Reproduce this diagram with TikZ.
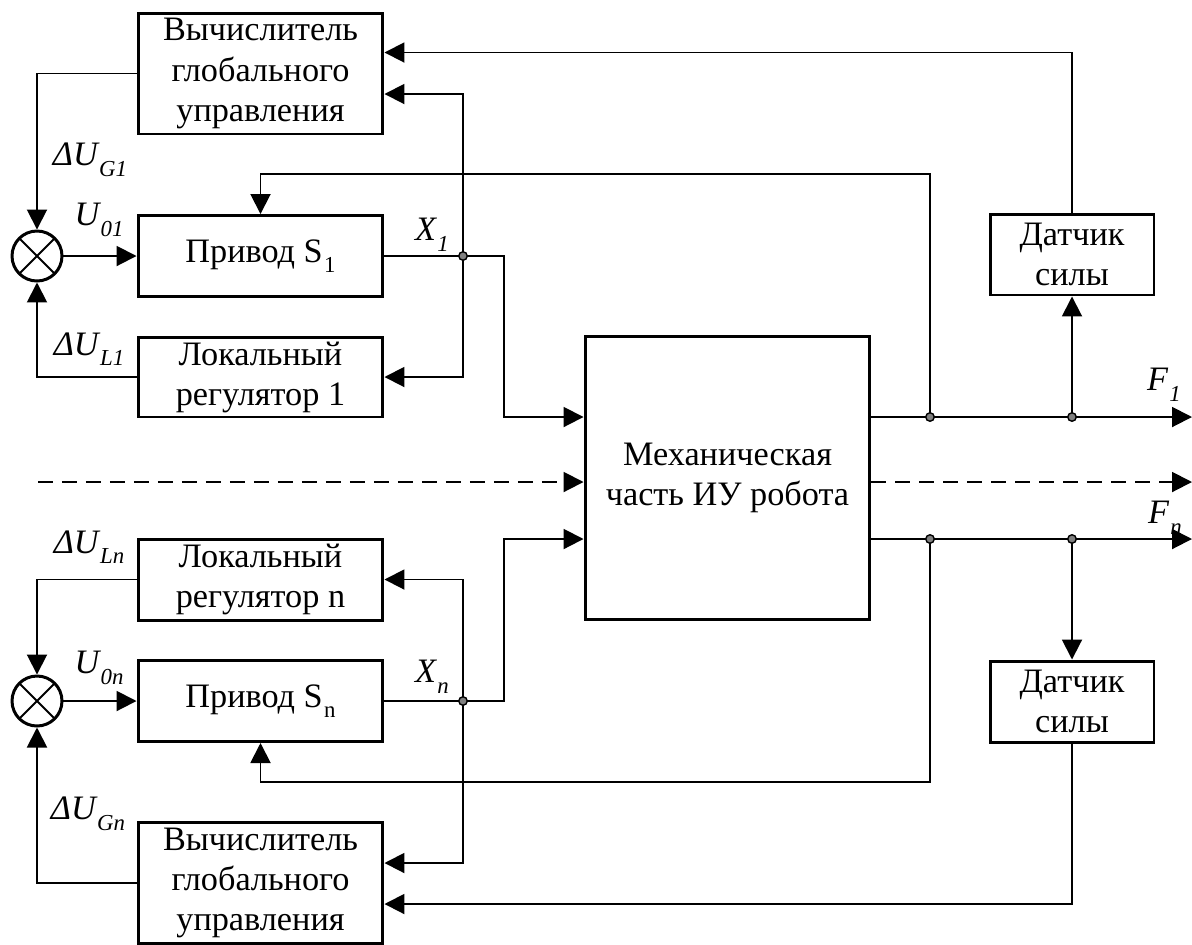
\documentclass[tikz,border=0pt]{standalone}
\usepackage{fontspec}
\setmainfont{Liberation Serif}
\usetikzlibrary{arrows.meta,positioning,calc}
\newcommand{\idx}[2]{#1\kern0.8pt\raisebox{-6pt}{\fontsize{13}{13}\selectfont #2}}

\begin{document}
\begin{tikzpicture}[
    x=0.02cm, y=-0.02cm,
    font=\fontsize{19.5}{22.8}\selectfont,
    block/.style={rectangle, draw, line width=1.7pt, align=center, inner sep=0pt, minimum width=4.9cm},
    calcbox/.style={block, minimum height=2.42cm},
    drivebox/.style={block, minimum height=1.62cm},
    sensbox/.style={block, minimum width=3.28cm, minimum height=1.62cm},
    summer/.style={circle, draw, line width=1.7pt, minimum size=1cm, inner sep=0pt, path picture={\draw[line width=1.1pt] (path picture bounding box.south west) -- (path picture bounding box.north east) (path picture bounding box.north west) -- (path picture bounding box.south east);}},
    conn/.style={line width=1.1pt},
    signal/.style={conn, -{Triangle[length=4mm, width=4mm]}},
    dashsignal/.style={signal, dash pattern=on 0.3cm off 0.18cm},
    junction/.style={circle, draw, fill=gray, line width=0.8pt, inner sep=0pt, minimum size=0.17cm},
    lbl/.style={inner sep=0pt, font=\fontsize{19.5}{22.8}\selectfont\itshape}
]
\useasboundingbox (0,0) rectangle (1192,944);

% Channel 1
\node[calcbox] (calc1) at (260.5,73.5) {Вычислитель\\глобального\\управления};
\node[summer] (sum1) at (37,256) {};
\node[drivebox] (drive1) at (260.5,256) {Привод \idx{S}{1}};
\node[drivebox, minimum height=1.6cm] (locreg1) at (260.5,377) {Локальный\\регулятор 1};

% Channel n
\node[drivebox] (locregn) at (260.5,579.5) {Локальный\\регулятор n};
\node[summer] (sumn) at (37,701) {};
\node[drivebox] (driven) at (260.5,701) {Привод \idx{S}{n}};
\node[calcbox] (calcn) at (260.5,883) {Вычислитель\\глобального\\управления};

% Robot and sensors
\node[block, minimum width=5.7cm, minimum height=5.68cm] (mech) at (727.5,478) {Механическая\\часть ИУ робота};
\node[sensbox] (sens1) at (1072,254.5) {Датчик\\силы};
\node[sensbox] (sensn) at (1072,701.5) {Датчик\\силы};

% Branch points
\coordinate (j1) at (463,256);
\coordinate (k1) at (504,256);
\coordinate (jn) at (463,701);
\coordinate (kn) at (504,701);
\coordinate (f1a) at (930,417);
\coordinate (f1b) at (1072,417);
\coordinate (f1end) at (1192,417);
\coordinate (fna) at (930,539);
\coordinate (fnb) at (1072,539);
\coordinate (fnend) at (1192,539);
\coordinate (top1) at (930,174);
\coordinate (botn) at (930,782);
\coordinate (dl) at (38,482);
\coordinate (dr) at (1192,482);

% Channel 1 connections
\draw[signal] (calc1.west) -| (sum1.north);
\draw[signal] (sum1.east) -- (drive1.west);
\draw[signal] (locreg1.west) -| (sum1.south);
\draw[signal] (drive1.east) -- (k1) |- (mech.west |- f1a);
\draw[signal] (j1) |- ($(calc1.east)+(0,20.5)$);
\draw[signal] (j1) |- (locreg1.east);
\draw[signal] (f1a) -- (top1) -| (drive1.north);
\draw[signal] (mech.east |- f1a) -- (f1end);
\draw[signal] (f1b) -- (sens1.south);
\draw[signal] (sens1.north) |- ($(calc1.east)+(0,-21)$);

% Channel n connections
\draw[signal] (locregn.west) -| (sumn.north);
\draw[signal] (sumn.east) -- (driven.west);
\draw[signal] (calcn.west) -| (sumn.south);
\draw[signal] (driven.east) -- (kn) |- (mech.west |- fna);
\draw[signal] (jn) |- (locregn.east);
\draw[signal] (jn) |- ($(calcn.east)+(0,-20)$);
\draw[signal] (fna) -- (botn) -| (driven.south);
\draw[signal] (mech.east |- fna) -- (fnend);
\draw[signal] (fnb) -- (sensn.north);
\draw[signal] (sensn.south) |- ($(calcn.east)+(0,21)$);

% Other channels
\draw[dashsignal] (dl) -- (mech.west |- dl);
\draw[dashsignal] (mech.east |- dr) -- (dr);

% Junction dots
\node[junction] (dotj1) at (j1) {};
\node[junction] (dotjn) at (jn) {};
\node[junction] (dotf1a) at (f1a) {};
\node[junction] (dotf1b) at (f1b) {};
\node[junction] (dotfna) at (fna) {};
\node[junction] (dotfnb) at (fnb) {};

% Signal labels
\node[lbl] (dug1) at (90,160) {\idx{ΔU}{G1}};
\node[lbl] (u01) at (99,220) {\idx{U}{01}};
\node[lbl] (dul1) at (89,349) {\idx{ΔU}{L1}};
\node[lbl] (x1) at (432,235) {\idx{X}{1}};
\node[lbl] (duln) at (89,547) {\idx{ΔU}{Ln}};
\node[lbl] (u0n) at (99,668) {\idx{U}{0n}};
\node[lbl] (xn) at (432,677) {\idx{X}{n}};
\node[lbl] (dugn) at (88,814) {\idx{ΔU}{Gn}};
\node[lbl] (f1) at (1164,385) {\idx{F}{1}};
\node[lbl] (fn) at (1165,518) {\idx{F}{n}};

\end{tikzpicture}
\end{document}
